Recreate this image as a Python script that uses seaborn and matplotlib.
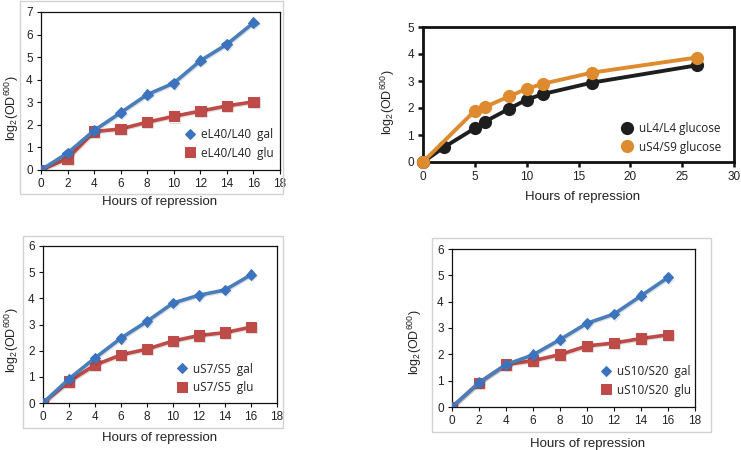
import numpy as np
import pandas as pd
import matplotlib
matplotlib.use("Agg")
import matplotlib.pyplot as plt
import matplotlib.patheffects as pe
from matplotlib.patches import Rectangle
import seaborn as sns

# --- Data ---
hours = [0, 2, 4, 6, 8, 10, 12, 14, 16]

el40_gal = [0, 0.75, 1.75, 2.54, 3.34, 3.85, 4.84, 5.57, 6.52]
el40_glu = [0, 0.51, 1.70, 1.82, 2.12, 2.38, 2.61, 2.84, 3.02]

us7_gal = [0, 0.92, 1.72, 2.48, 3.12, 3.82, 4.12, 4.32, 4.90]
us7_glu = [0, 0.82, 1.45, 1.84, 2.06, 2.37, 2.58, 2.69, 2.90]

us10_gal = [0, 0.92, 1.61, 1.98, 2.56, 3.18, 3.53, 4.22, 4.92]
us10_glu = [0, 0.92, 1.61, 1.76, 1.99, 2.32, 2.43, 2.60, 2.74]

ul4_hours = [0, 2, 5, 6, 8.3, 10, 11.6, 16.3, 26.4]
ul4_glucose = [0, 0.54, 1.25, 1.50, 1.97, 2.31, 2.52, 2.94, 3.58]
us4_hours = [0, 5, 6, 8.3, 10, 11.6, 16.3, 26.4]
us4_glucose = [0, 1.90, 2.04, 2.43, 2.71, 2.90, 3.31, 3.87]

BLUE = "#4A7EBB"
RED = "#BE4B48"
BLUE_MK = "#3B73BE"
RED_MK = "#B83A48"
BLACK = "#1E1E1E"
ORANGE = "#DE8A2E"

sns.set_style("ticks")
plt.rcParams["font.family"] = ["Liberation Sans", "DejaVu Sans"]
plt.rcParams["mathtext.fontset"] = "custom"
plt.rcParams["mathtext.rm"] = "Liberation Sans"
plt.rcParams["mathtext.it"] = "Liberation Sans:italic"

YLABEL = r"log$_2$(OD$^{600}$)"
TXT = "#222222"

fig = plt.figure(figsize=(7.41, 4.5), dpi=100)

# outer light frames around the Excel-style panels
for (x0, y0, x1, y1) in [(20, 1, 283, 194), (23, 236, 283, 428), (432, 238, 711, 432)]:
    fig.add_artist(Rectangle((x0 / 741, 1 - y1 / 450), (x1 - x0) / 741, (y1 - y0) / 450,
                             transform=fig.transFigure, fill=False,
                             edgecolor="#d2d2d2", lw=1.0))

shadow = [pe.SimpleLineShadow(offset=(0.7, -0.8), alpha=0.12), pe.Normal()]


def excel_panel(rect, gal, glu, name, ymax, leg_xy, xlab_xy, ylab_xy):
    ax = fig.add_axes(rect)
    df = pd.DataFrame({"Hours": hours, "gal": gal, "glu": glu})
    sns.lineplot(data=df, x="Hours", y="gal", ax=ax, color=BLUE, lw=2.6,
                 marker="D", markersize=5.5, markerfacecolor=BLUE_MK,
                 markeredgecolor=BLUE_MK, label=f"{name}  gal",
                 path_effects=shadow, zorder=3)
    sns.lineplot(data=df, x="Hours", y="glu", ax=ax, color=RED, lw=2.6,
                 marker="s", markersize=7.5, markerfacecolor=RED,
                 markeredgecolor=RED, label=f"{name}  glu",
                 path_effects=shadow, zorder=2)
    ax.set_xlim(0, 18)
    ax.set_ylim(0, ymax)
    ax.set_xticks(range(0, 19, 2))
    ax.set_yticks(range(0, ymax + 1))
    for s in ax.spines.values():
        s.set_color("#111111")
        s.set_linewidth(0.9)
    ax.tick_params(length=3, width=0.8, labelsize=8.5, colors="#111111",
                   labelcolor=TXT, pad=3)
    ax.set_xlabel("Hours of repression", fontsize=9.5, color=TXT)
    ax.set_ylabel(YLABEL, fontsize=9, color=TXT)
    ax.xaxis.set_label_coords(*xlab_xy)
    ax.yaxis.set_label_coords(*ylab_xy)
    leg = ax.legend(loc="center left", bbox_to_anchor=leg_xy, frameon=False,
                    fontsize=8.5, handlelength=0.9, handletextpad=0.5,
                    labelspacing=0.45, borderpad=0, borderaxespad=0)
    for h in leg.legend_handles:
        h.set_linestyle("none")
        h.set_path_effects([])
    for t in leg.get_texts():
        t.set_color(TXT)
        t.set_family(["Open Sans", "DejaVu Sans"])
    return ax


excel_panel([41 / 741, 1 - 170 / 450, 239 / 741, 158 / 450], el40_gal, el40_glu,
            "eL40/L40", 7, (0.6, 0.165), (0.494, -0.165), (-0.085, 0.39))
excel_panel([43 / 741, 1 - 403 / 450, 234 / 741, 157 / 450], us7_gal, us7_glu,
            "uS7/S5", 6, (0.57, 0.158), (0.496, -0.185), (-0.095, 0.40))
excel_panel([452 / 741, 1 - 407 / 450, 243 / 741, 158 / 450], us10_gal, us10_glu,
            "uS10/S20", 6, (0.61, 0.165), (0.556, -0.196), (-0.115, 0.41))

# --- top right panel ---
ax = fig.add_axes([423 / 741, 1 - 162 / 450, 311 / 741, 135 / 450])
df_l4 = pd.DataFrame({"Hours": ul4_hours, "log2": ul4_glucose})
df_s4 = pd.DataFrame({"Hours": us4_hours, "log2": us4_glucose})
sns.lineplot(data=df_l4, x="Hours", y="log2", ax=ax, color=BLACK, lw=2.8,
             marker="o", markersize=9.5, markeredgewidth=0,
             label="uL4/L4 glucose", zorder=2, clip_on=False)
sns.lineplot(data=df_s4, x="Hours", y="log2", ax=ax, color=ORANGE, lw=2.8,
             marker="o", markersize=9.5, markeredgewidth=0,
             label="uS4/S9 glucose", zorder=3, clip_on=False)
ax.set_xlim(0, 30)
ax.set_ylim(0, 5)
ax.set_xticks(range(0, 31, 5))
ax.set_yticks(range(0, 6))
for s in ax.spines.values():
    s.set_color("#111111")
    s.set_linewidth(2.0)
ax.tick_params(length=3.5, width=1.8, labelsize=8.5, colors="#111111",
               labelcolor=TXT, pad=3)
ax.set_xlabel("Hours of repression", fontsize=9.5, color=TXT)
ax.set_ylabel(YLABEL, fontsize=9, color=TXT)
ax.xaxis.set_label_coords(0.514, -0.215)
ax.yaxis.set_label_coords(-0.083, 0.44)
leg = ax.legend(loc="center left", bbox_to_anchor=(0.64, 0.178), frameon=False,
                fontsize=8.5, handlelength=0.9, handletextpad=0.5,
                labelspacing=0.45, borderpad=0, borderaxespad=0)
for h in leg.legend_handles:
    h.set_linestyle("none")
for t in leg.get_texts():
    t.set_color(TXT)
    t.set_family(["Open Sans", "DejaVu Sans"])

fig.savefig("out.png", dpi=100)
